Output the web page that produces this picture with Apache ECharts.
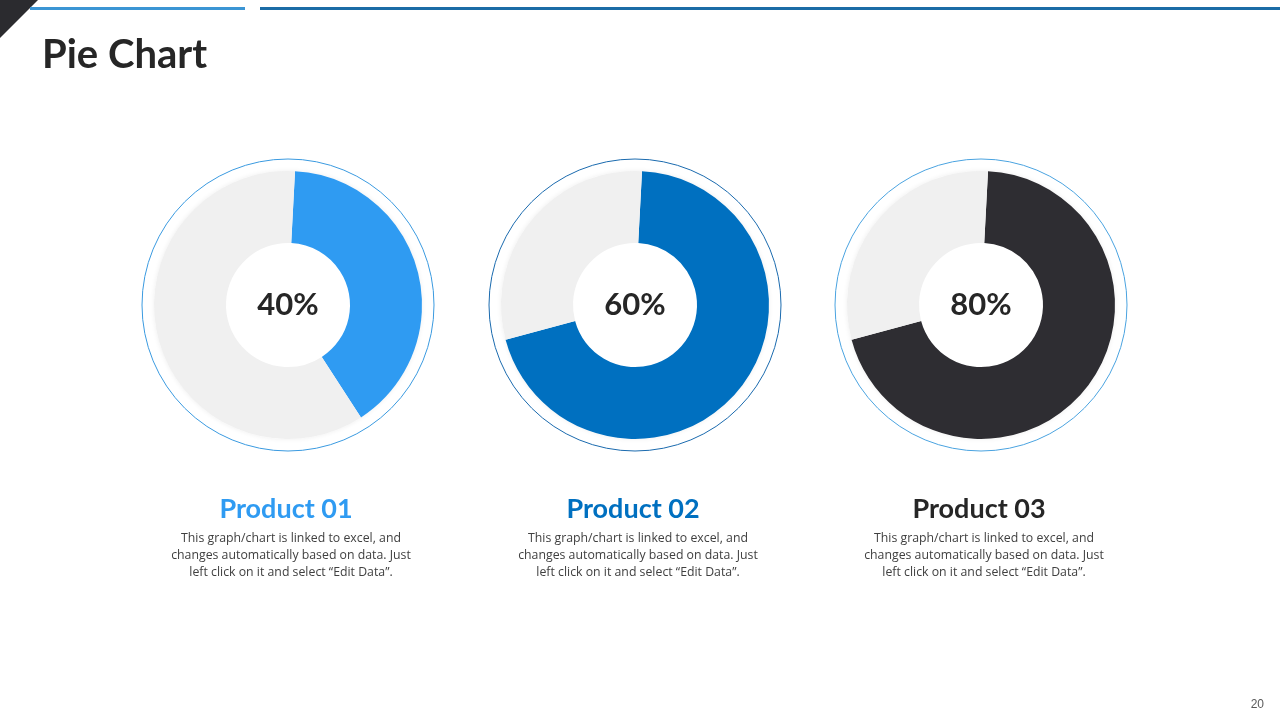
<!DOCTYPE html>
<html>
<head>
<meta charset="utf-8">
<script src="https://cdn.jsdelivr.net/npm/echarts@6/dist/echarts.min.js"></script>
<style>
  html, body { margin: 0; padding: 0; background: #fff; }
  #chart { width: 1280px; height: 720px; }
</style>
</head>
<body>
<div id="chart"></div>
<script>
// data
const products = ['Product 01', 'Product 02', 'Product 03'];
const centerLabels = ['40%', '60%', '80%'];
const filledShare = [40, 70, 70]; // share of each ring that is coloured, as drawn
const note = 'This graph/chart is linked to excel, and\nchanges automatically based on data. Just\nleft click on it and select \u201cEdit Data\u201d.';

const fillColors = ['#2f9bf2', '#0070c0', '#2e2d32'];
const ringColors = ['#3a9ae0', '#1a6aae', '#4aa3e0'];
const titleColors = ['#2f9bf2', '#0070c0', '#262626'];
const centers = [288, 635, 981];
const cy = 305;

const chart = echarts.init(document.getElementById('chart'));

const series = products.map((p, i) => ({
  type: 'pie',
  name: p,
  center: [centers[i], cy],
  radius: [62, 134],
  startAngle: 87,
  clockwise: true,
  silent: true,
  avoidLabelOverlap: false,
  label: {
    show: true,
    position: 'center',
    formatter: () => centerLabels[i],
    fontFamily: 'Lato',
    fontWeight: 'bold',
    fontSize: 31,
    color: '#262626'
  },
  labelLine: { show: false },
  emphasis: { disabled: true },
  data: [
    { value: filledShare[i], itemStyle: { color: fillColors[i] } },
    { value: 100 - filledShare[i], itemStyle: { color: '#f0f0f0' }, label: { show: false } }
  ]
}));

const graphics = [
  // corner triangle and top lines
  { type: 'polygon', shape: { points: [[0, 0], [38, 0], [0, 38]] }, style: { fill: '#2b2b2f' } },
  { type: 'rect', shape: { x: 30, y: 7, width: 215, height: 3 }, style: { fill: '#3b95d4' } },
  { type: 'rect', shape: { x: 260, y: 7, width: 1020, height: 3 }, style: { fill: '#1b6ca6' } },
  { type: 'text', left: 42, top: 35, style: { text: 'Pie Chart', font: 'bold 40px Lato', fill: '#262626' } },
  { type: 'text', right: 16, top: 699, style: { text: '20', font: '12px "Liberation Sans"', fill: '#595959' } }
];

centers.forEach((x, i) => {
  graphics.push({
    type: 'circle', z: -1,
    shape: { cx: x, cy: cy, r: 134 },
    style: { fill: '#fff', shadowBlur: 5, shadowColor: 'rgba(0,0,0,0.07)' }
  });
  graphics.push({
    type: 'circle',
    shape: { cx: x, cy: cy, r: 146 },
    style: { fill: 'none', stroke: ringColors[i], lineWidth: 1 }
  });
  graphics.push({
    type: 'text',
    x: x - 2, y: 509,
    style: {
      text: products[i], font: 'bold 27px Lato', fill: titleColors[i],
      align: 'center', verticalAlign: 'middle'
    }
  });
  graphics.push({
    type: 'text',
    x: x + 3, y: 530,
    style: {
      text: note, font: '12.3px "Open Sans"', fill: '#404040',
      align: 'center', verticalAlign: 'top', lineHeight: 17
    }
  });
});

chart.setOption({
  animation: false,
  graphic: graphics,
  series: series
});
</script>
</body>
</html>
